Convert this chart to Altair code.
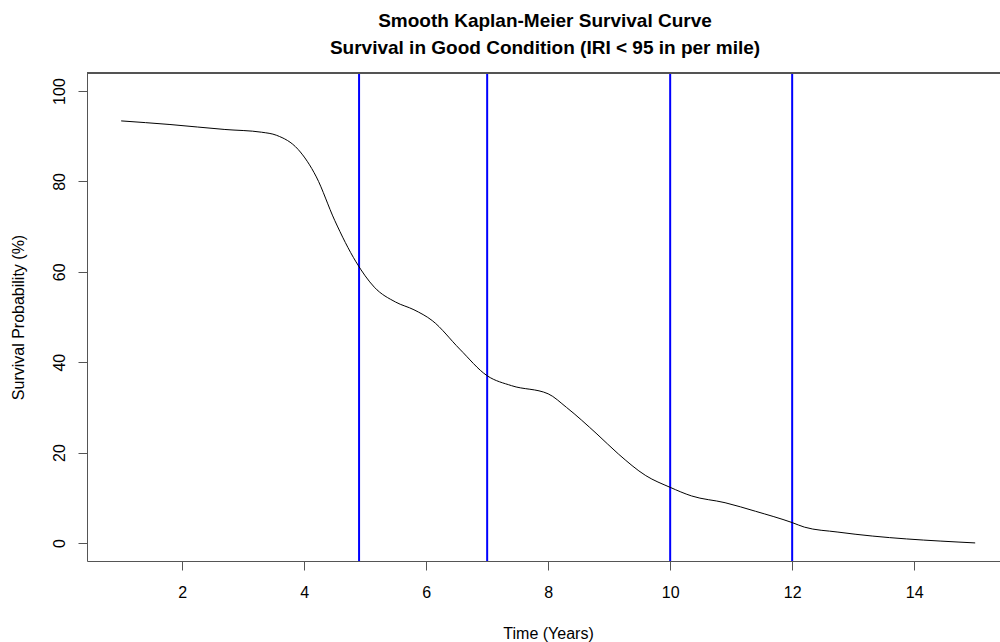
import altair as alt
import pandas as pd

# Survival curve
time_years = [1.0, 1.8, 2.7, 3.3, 3.55, 3.9, 4.2, 4.5, 4.85, 5.15, 5.5, 5.8, 6.1,
              6.55, 7.0, 7.4, 8.0, 8.3, 8.8, 9.15, 9.6, 10.0, 10.35, 10.9, 11.4,
              12.0, 12.2, 12.75, 15.0]
survival_pct = [93.4, 92.6, 91.5, 90.9, 90.2, 87.1, 81.0, 71.4, 62.2, 56.6, 53.3,
                51.6, 49.2, 42.9, 37.0, 34.8, 33.0, 30.0, 24.1, 19.7, 14.9, 12.3,
                10.4, 8.9, 7.0, 4.5, 3.5, 2.4, 0.0]

# Vertical reference lines
ref_years = [4.9, 7, 10, 12]

x_ticks = [2, 4, 6, 8, 10, 12, 14]
y_ticks = [0, 20, 40, 60, 80, 100]

title_lines = ["Smooth Kaplan-Meier Survival Curve",
               "Survival in Good Condition (IRI < 95 in per mile)"]

FONT = "Liberation Sans"
W, H = 913, 488
AX = "#555555"

curve_df = pd.DataFrame({"t": time_years, "s": survival_pct})
ref_df = pd.DataFrame({"t": ref_years})

xscale = alt.Scale(domain=[0.44, 15.407], nice=False, zero=False)
yscale = alt.Scale(domain=[-4, 104], nice=False, zero=False)

xaxis = alt.Axis(values=x_ticks, format="d", grid=False, title="Time (Years)",
                 domainColor=AX, tickColor=AX, tickSize=9, labelPadding=14,
                 labelFont=FONT, labelFontSize=16, labelColor="black",
                 labelBaseline="top", labelAlign="center",
                 titleFont=FONT, titleFontSize=16, titleFontWeight="normal",
                 titleColor="black", titleX=461, titleY=77.5,
                 titleBaseline="alphabetic", titleAlign="center")
yaxis = alt.Axis(values=y_ticks, format="d", grid=False, title="Survival Probability (%)",
                 domainColor=AX, tickColor=AX, tickSize=9, labelPadding=14,
                 labelFont=FONT, labelFontSize=16, labelColor="black",
                 labelAngle=270, labelAlign="center", labelBaseline="alphabetic",
                 titleFont=FONT, titleFontSize=16, titleFontWeight="normal",
                 titleColor="black", titleAngle=270, titleX=-63.5, titleY=244,
                 titleBaseline="alphabetic", titleAlign="center")

line = alt.Chart(curve_df).mark_line(color="black", strokeWidth=1,
                                     interpolate="monotone").encode(
    x=alt.X("t:Q", scale=xscale, axis=xaxis),
    y=alt.Y("s:Q", scale=yscale, axis=yaxis),
)

rules = alt.Chart(ref_df).mark_rule(color="#0000FF", strokeWidth=2).encode(
    x=alt.X("t:Q", scale=xscale),
)

top_border = alt.Chart(curve_df).mark_rule(color=AX, strokeWidth=1).encode(
    x=alt.value(0), x2=alt.value(W), y=alt.value(0)
)

chart = alt.layer(rules, line, top_border).properties(
    width=W, height=H,
    title=alt.TitleParams(text=title_lines, font=FONT, fontSize=19,
                          fontWeight="bold", color="black", anchor="middle",
                          lineHeight=27, dx=1.5, offset=14),
    autosize=alt.AutoSizeParams(type="none"),
    padding={"left": 87, "top": 73, "right": 0, "bottom": 81},
    background="white",
).configure_view(stroke=None)

chart.save("out.html", embed_options={"renderer": "svg", "actions": False})
